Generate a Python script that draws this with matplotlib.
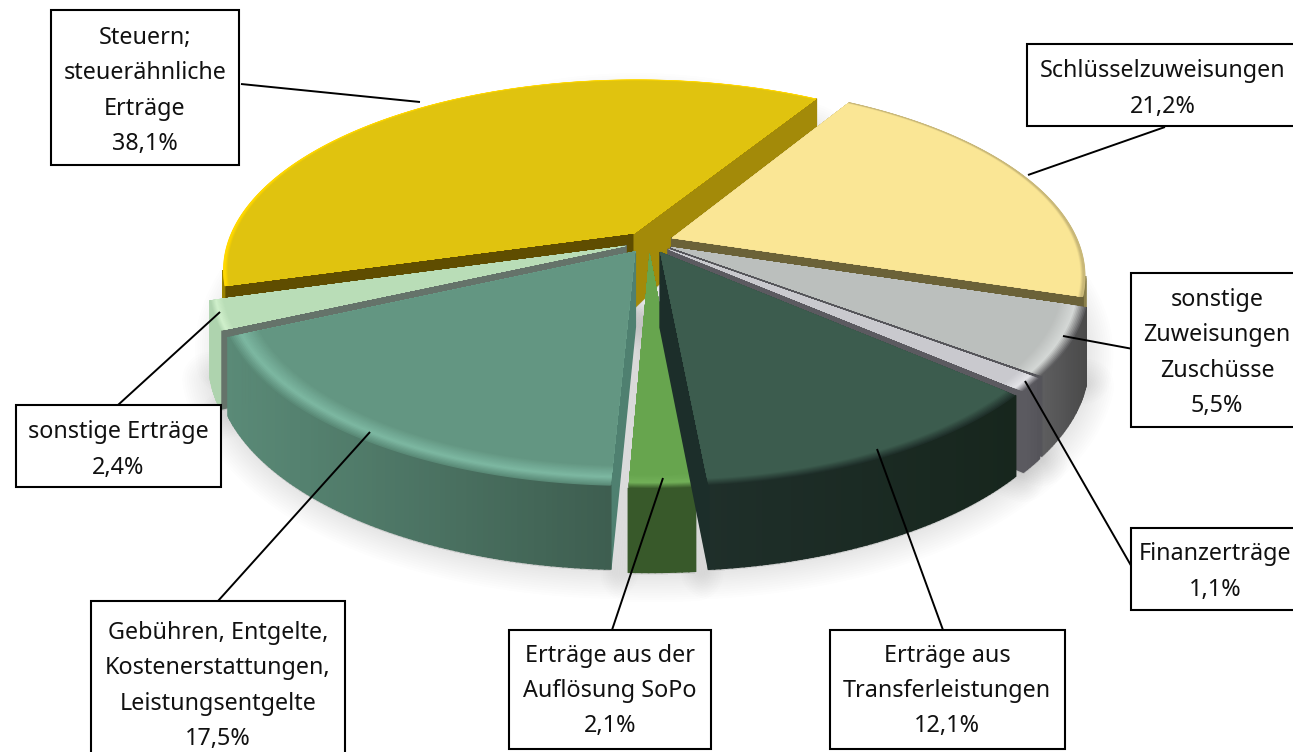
# Erträge pie, 3D look drawn by hand (exploded slices in perspective)
import numpy as np
import matplotlib
matplotlib.use('Agg')
import matplotlib.pyplot as plt
from matplotlib.colors import to_rgb
from matplotlib.patches import Polygon, Rectangle

plt.rcParams['font.family'] = ['Noto Sans', 'DejaVu Sans']

# Data, clockwise from the top slice
names = ['Schlüsselzuweisungen', 'sonstige\nZuweisungen\nZuschüsse', 'Finanzerträge',
         'Erträge aus\nTransferleistungen', 'Erträge aus der\nAuflösung SoPo',
         'Gebühren, Entgelte,\nKostenerstattungen,\nLeistungsentgelte', 'sonstige Erträge',
         'Steuern;\nsteuerähnliche\nErträge']
shares = [21.2, 5.5, 1.1, 12.1, 2.1, 17.5, 2.4, 38.1]
share_labels = ['21,2%', '5,5%', '1,1%', '12,1%', '2,1%', '17,5%', '2,4%', '38,1%']

# Colours per slice
top_col = ['#FAE695', '#BBBFBD', '#C9C9CE', '#3C5C4E', '#67A54E', '#639682', '#B9DDB7', '#E0C30F']
rim_col = ['#C9B878', '#D5D8D6', '#E4E4E8', '#3C5C4E', '#72B058', '#7DB8A2', '#D0F0CC', '#FFD800']
rim_size = [0.012, 0.06, 0.05, 0.06, 0.05, 0.07, 0.03, 0.012]
arc_left = ['#8A7F4A', '#5E5E60', '#5D5C62', '#1F2F2A', '#38592A', '#5A8A77', '#AED3AE', '#9A8200']
arc_right = ['#8A7F4A', '#4A4A4A', '#55545A', '#17261D', '#38592A', '#3E5E50', '#AED3AE', '#9A8200']
face_start = ['#6B6238', '#6B6238', '#5B5A60', '#1C2E2A', '#38592A', '#4F8070', '#65736A', '#5F4D00']
face_end = ['#6B6238', '#55555A', '#5B5A60', '#1C2E2A', '#38592A', '#65736A', '#65736A', '#A38A09']

# Boxes and leader lines in picture pixels
boxes = [(1027, 44, 300, 82), (1131, 273, 200, 154), (1131, 528, 200, 82), (830, 630, 235, 119),
         (509, 630, 202, 119), (91, 601, 254, 160), (16, 405, 205, 82), (51, 10, 188, 155)]
text_x = [1163, 1217, 1215, 947, 610, 218, 118, 145]
text_y = [89, 353, 572, 691, 691, 686, 450, 91]
leaders = [((1028, 175), (1165, 127)), ((1063, 336), (1133, 349)), ((1025, 381), (1133, 569)),
           ((877, 449), (943, 630)), ((663, 478), (612, 630)), ((370, 432), (218, 601)),
           ((220, 312), (118, 405)), ((241, 84), (420, 102))]

# Order of painting, back to front
paint_order = [7, 0, 6, 1, 2, 5, 4, 3]

W, H = 1293, 752
CX, CY = 649, 242
RX, RY = 407, 186
PERSP = 0.19
EXPLODE = 0.06
START = 31.2


def project(u, v):
    s = 1 / (1 + PERSP * v)
    return CX + RX * u * s, CY - RY * v * s


def depth(v):
    return 75 - 8 * v - 43 * np.maximum(v, 0) ** 2


def mix(a, b, t):
    a, b = np.array(to_rgb(a)), np.array(to_rgb(b))
    return tuple(a + (b - a) * t)


fig = plt.figure(figsize=(W / 100, H / 100), dpi=100)
ax = fig.add_axes([0, 0, 1, 1])
ax.set_xlim(0, W)
ax.set_ylim(H, 0)
ax.axis('off')

# slice angles
edges = START + 3.6 * np.concatenate([[0], np.cumsum(shares)])
slices = []
for i in range(len(shares)):
    a0, a1 = np.radians(edges[i]), np.radians(edges[i + 1])
    mid = (a0 + a1) / 2
    ou, ov = EXPLODE * np.sin(mid), EXPLODE * np.cos(mid)
    th = np.linspace(a0, a1, max(6, int((edges[i + 1] - edges[i]) * 1.5)))
    slices.append((ou, ov, th))


def sector(ou, ov, th, r=1.0):
    us = np.concatenate([[ou], ou + r * np.sin(th)])
    vs = np.concatenate([[ov], ov + r * np.cos(th)])
    return us, vs


# soft shadow under the whole pie
for lw, al in zip(np.linspace(40, 4, 12), [0.012] * 12):
    for i in paint_order:
        us, vs = sector(*slices[i])
        xs, ys = project(us, vs)
        ys = ys + depth(vs) + 2
        ax.add_patch(Polygon(np.c_[xs, ys], closed=True, fc='#777777', ec='#777777', lw=lw,
                             alpha=al, joinstyle='round', zorder=1))

z = 2
for i in paint_order:
    ou, ov, th = slices[i]
    us, vs = sector(ou, ov, th)
    xs, ys = project(us, vs)
    yb = ys + depth(vs)
    n = len(xs)
    # walls, only those that face the viewer
    for k in range(n):
        m = (k + 1) % n
        if xs[m] >= xs[k]:
            continue
        if k == 0:
            col = face_start[i]
        elif k == n - 1:
            col = face_end[i]
        else:
            col = mix(arc_left[i], arc_right[i], np.clip((xs[k] - xs[1:].min()) / max(np.ptp(xs[1:]), 1), 0, 1))
        quad = [(xs[k], ys[k]), (xs[m], ys[m]), (xs[m], yb[m]), (xs[k], yb[k])]
        ax.add_patch(Polygon(quad, closed=True, fc=col, ec=col, lw=1.2, zorder=z))
    z += 1
    # top with a soft rim
    steps = 18
    front = np.cos((th[0] + th[-1]) / 2) < 0.2
    for j in range(steps):
        t = j / (steps - 1)
        r = 1 - rim_size[i] * t
        if t < 0.4:
            col = mix(arc_left[i], rim_col[i], t / 0.4) if front else rim_col[i]
        else:
            col = mix(rim_col[i], top_col[i], (t - 0.4) / 0.6)
        us2, vs2 = sector(ou, ov, th, r)
        x2, y2 = project(us2, vs2)
        ax.add_patch(Polygon(np.c_[x2, y2], closed=True, fc=col, ec='none', zorder=z))
        z += 1

# boxes, leaders and labels
for i in range(len(names)):
    x, y, w, h = boxes[i]
    ax.add_patch(Rectangle((x, y), w, h, fc='white', ec='black', lw=1.5, zorder=500))
    (x0, y0), (x1, y1) = leaders[i]
    ax.plot([x0, x1], [y0, y1], color='black', lw=1.4, zorder=499, solid_capstyle='butt')
    ax.text(text_x[i], text_y[i], names[i] + '\n' + share_labels[i],
            ha='center', va='center', fontsize=16.8, linespacing=1.62, color='#111111', zorder=501)

fig.savefig('out.png', dpi=100)
